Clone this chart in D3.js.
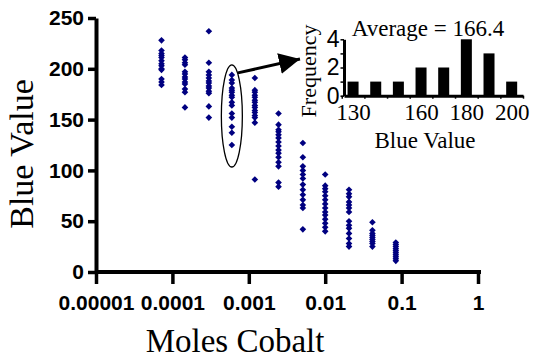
<!DOCTYPE html>
<html>
<head>
<meta charset="utf-8">
<script src="https://cdn.jsdelivr.net/npm/d3@7"></script>
<style>
  body { margin: 0; background: #fff; }
  svg { display: block; }
  .serif { font-family: "Liberation Serif", "Times New Roman", serif; }
  .sans { font-family: "Liberation Sans", Arial, sans-serif; }
</style>
</head>
<body>
<svg id="chart" width="534" height="360"></svg>
<script>
// moles of cobalt for each dilution column
const moles = [7.2e-5, 1.46e-4, 3.0e-4, 6.0e-4, 1.2e-3, 2.45e-3, 5.1e-3, 1.0e-2, 2.05e-2, 4.15e-2, 8.4e-2];

// blue values measured in each column
const blueValues = [
  [228, 218, 215, 213, 211, 208, 205, 203, 200, 199, 190, 187, 184],
  [211, 209, 206, 204, 197, 195, 192, 190, 187, 185, 180, 177, 162],
  [237, 206, 197, 194, 191, 188, 186, 183, 181, 178, 176, 163, 152],
  [194, 189, 186, 181, 179, 177, 174, 172, 167, 164, 156, 152, 143, 137, 125],
  [191, 179, 177, 174, 172, 169, 167, 164, 162, 159, 157, 154, 152, 147, 91],
  [156, 145, 140, 138, 135, 132, 128, 124, 120, 117, 113, 108, 104, 88, 84],
  [127, 113, 104, 100, 96, 92, 86, 81, 76, 71, 66, 63, 42],
  [96, 85, 82, 79, 75, 71, 67, 63, 59, 56, 52, 48, 44, 40],
  [81, 77, 74, 69, 66, 63, 59, 50, 46, 43, 38, 33, 28, 25],
  [49, 41, 38, 36, 34, 32, 30, 28, 25],
  [29, 27, 25, 23, 21, 19, 17, 15, 13, 11]
];

const xTicks = [1e-5, 1e-4, 1e-3, 1e-2, 1e-1, 1];
const xTickLabels = ["0.00001", "0.0001", "0.001", "0.01", "0.1", "1"];
const yTicks = [0, 50, 100, 150, 200, 250];

// the circled column shown in the inset histogram
const highlightCol = 3;
const histThresholds = [120, 130, 140, 150, 160, 170, 180, 190, 200];
const histTickLabels = [130, 160, 180, 200];
const histYTicks = [0, 1, 2, 3, 4];
const histYLabels = [0, 2, 4];

const svg = d3.select("#chart");

const x = d3.scaleLog().domain([1e-5, 1]).range([96, 478]);
const y = d3.scaleLinear().domain([0, 250]).range([272, 18]);

// x axis
const gx = svg.append("g")
    .attr("transform", `translate(0,${y(0)})`)
    .call(d3.axisBottom(x)
        .tickValues(xTicks)
        .tickFormat((d, i) => xTickLabels[i])
        .tickSize(12)
        .tickSizeOuter(0)
        .tickPadding(11));

// y axis
const gy = svg.append("g")
    .attr("transform", `translate(${x(1e-5)},0)`)
    .call(d3.axisLeft(y)
        .tickValues(yTicks)
        .tickSize(8)
        .tickSizeOuter(0)
        .tickPadding(4));

[gx, gy].forEach(g => {
    g.select(".domain").attr("stroke", "#000").attr("stroke-width", 4);
    g.selectAll(".tick line").attr("stroke", "#000").attr("stroke-width", 3.5);
    g.selectAll(".tick text")
        .attr("class", "sans")
        .attr("fill", "#000")
        .style("font-size", "21px")
        .style("font-weight", "bold");
});
gx.select(".domain").attr("d", `M${x(1e-5)},0H${x(1) + 3}`);

// axis titles
svg.append("text")
    .attr("class", "serif")
    .attr("x", 235).attr("y", 352)
    .attr("text-anchor", "middle")
    .style("font-size", "33px")
    .text("Moles Cobalt");

svg.append("text")
    .attr("class", "serif")
    .attr("transform", "translate(33,154) rotate(-90)")
    .attr("text-anchor", "middle")
    .style("font-size", "34px")
    .text("Blue Value");

// scatter points
const points = blueValues.flatMap((col, i) => col.map(v => ({ m: moles[i], v: v })));
const diamond = d3.symbol().type(d3.symbolSquare).size(22);

svg.append("g").selectAll("path")
    .data(points)
    .enter().append("path")
    .attr("d", diamond)
    .attr("transform", d => `translate(${x(d.m)},${y(d.v)}) rotate(45)`)
    .attr("fill", "#000080");

// ellipse around the highlighted column
const hl = blueValues[highlightCol];
const hlExt = d3.extent(hl);
const ecx = x(moles[highlightCol]);
const ecy = (y(hlExt[0]) + y(hlExt[1])) / 2 + 6;
const ery = (y(hlExt[0]) - y(hlExt[1])) / 2 + 16;
svg.append("ellipse")
    .attr("cx", ecx).attr("cy", ecy)
    .attr("rx", 10.5).attr("ry", ery)
    .attr("fill", "none")
    .attr("stroke", "#000")
    .attr("stroke-width", 1.3);

// arrow to the inset
svg.append("defs").append("marker")
    .attr("id", "arrowhead")
    .attr("viewBox", "0 0 10 10")
    .attr("refX", 10).attr("refY", 5)
    .attr("markerWidth", 7).attr("markerHeight", 7)
    .attr("markerUnits", "strokeWidth")
    .attr("orient", "auto")
    .append("path")
    .attr("d", "M0,0L10,5L0,10Z")
    .attr("fill", "#000");

svg.append("line")
    .attr("x1", ecx + 6).attr("y1", ecy - ery + 8)
    .attr("x2", 300).attr("y2", 59)
    .attr("stroke", "#000")
    .attr("stroke-width", 3)
    .attr("marker-end", "url(#arrowhead)");

// inset histogram
const hx = d3.scaleLinear().domain([126, 205]).range([344, 523]);
const hy = d3.scaleLinear().domain([0, 4]).range([95.7, 39.3]);

const bins = d3.bin().domain([120, 200]).thresholds(histThresholds.slice(1, -1))(hl);

const inset = svg.append("g");

inset.selectAll("rect")
    .data(bins)
    .enter().append("rect")
    .attr("x", d => hx(d.x1) - 5.5)
    .attr("width", 11)
    .attr("y", d => hy(d.length))
    .attr("height", d => hy(0) - hy(d.length))
    .attr("fill", "#000");

const hgx = inset.append("g")
    .attr("transform", `translate(0,${hy(0)})`)
    .call(d3.axisBottom(hx)
        .tickValues(histThresholds.map(t => t + 5).concat(histTickLabels))
        .tickFormat(d => histTickLabels.includes(d) ? d : "")
        .tickSize(3)
        .tickSizeOuter(0)
        .tickPadding(5));
hgx.selectAll(".tick").filter(d => histTickLabels.includes(d)).select("line").remove();

const hgy = inset.append("g")
    .attr("transform", `translate(${hx(126)},0)`)
    .call(d3.axisLeft(hy)
        .tickValues(histYTicks)
        .tickFormat(d => histYLabels.includes(d) ? d : "")
        .tickSize(3.5)
        .tickSizeOuter(0)
        .tickPadding(1));

[hgx, hgy].forEach(g => {
    g.select(".domain").attr("stroke", "#000").attr("stroke-width", 3);
    g.selectAll(".tick line").attr("stroke", "#000").attr("stroke-width", 1.5);
});
hgx.selectAll(".tick text")
    .attr("class", "serif")
    .attr("fill", "#000")
    .style("font-size", "23px");
hgy.selectAll(".tick text")
    .attr("class", "sans")
    .attr("fill", "#000")
    .style("font-size", "23px");

inset.append("text")
    .attr("class", "serif")
    .attr("x", 428).attr("y", 36)
    .attr("text-anchor", "middle")
    .style("font-size", "23px")
    .text("Average = " + d3.mean(hl).toFixed(1));

inset.append("text")
    .attr("class", "serif")
    .attr("x", 425).attr("y", 148)
    .attr("text-anchor", "middle")
    .style("font-size", "23px")
    .text("Blue Value");

inset.append("text")
    .attr("class", "serif")
    .attr("transform", "translate(316,71) rotate(-90)")
    .attr("text-anchor", "middle")
    .style("font-size", "22px")
    .text("Frequency");
</script>
</body>
</html>
